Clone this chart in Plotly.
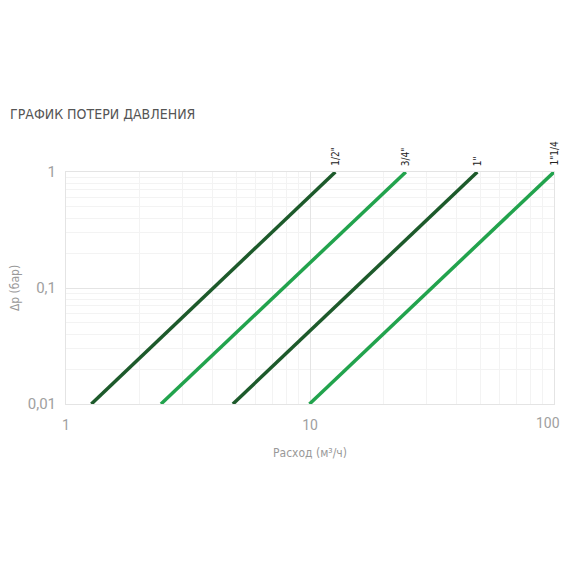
import math
import plotly.graph_objects as go

# Pipe sizes and flow (m³/h) at dp = 0.01 and dp = 1 bar
sizes = ['1/2"', '3/4"', '1"', '1"1/4']
q_start = [1.27, 2.45, 4.83, 9.95]
q_end = [12.7, 24.7, 48.5, 100.0]
dp_vals = [0.01, 1.0]
colors = ['#1d5a2b', '#22a34d', '#1d5a2b', '#22a34d']

x_ticks = [1, 10, 100]
x_ticktext = ['1', '10', '100']
y_ticks = [0.01, 0.1, 1]
y_ticktext = ['0,01', '0,1', '1']

cond = 'DejaVu Sans Condensed, Liberation Sans Narrow, Roboto, sans-serif'
xtick_font = dict(family='Roboto, sans-serif', size=14, color='#a0a0a0')

fig = go.Figure()
for name, qs, qe, c in zip(sizes, q_start, q_end, colors):
    fig.add_trace(go.Scatter(x=[qs, qe], y=dp_vals, mode='lines',
                             line=dict(color=c, width=3.5), name=name,
                             showlegend=False))
    fig.add_annotation(x=math.log10(qe), y=0, xref='x', yref='y', text=name,
                       textangle=-90, showarrow=False, xanchor='center',
                       yanchor='bottom', yshift=4,
                       font=dict(family=cond, size=10, color='#222'))

# last x tick label drawn right-aligned so it stays inside the page
fig.add_annotation(x=math.log10(x_ticks[-1]), y=0, xref='x', yref='paper',
                   text=x_ticktext[-1], showarrow=False, xanchor='right',
                   yanchor='top', xshift=8, yshift=-9, font=xtick_font)

grid = '#e4e4e4'
minor_grid = '#f3f3f3'
tick_font = dict(family='Roboto, sans-serif', size=15, color='#a0a0a0')
fig.update_xaxes(type='log', range=[0, 2], tickvals=x_ticks[:-1], ticktext=x_ticktext[:-1],
                 showgrid=True, gridcolor=grid, gridwidth=1, automargin=False,
                 minor=dict(showgrid=True, gridcolor=minor_grid, dtick='D1'),
                 showline=True, linecolor=grid, mirror=True, zeroline=False,
                 tickfont=xtick_font, ticks='', ticklabelstandoff=8,
                 title=dict(text='Расход (м³/ч)', standoff=16,
                            font=dict(family=cond, size=12, color='#999999')))
fig.update_yaxes(type='log', range=[-2, 0], tickvals=y_ticks, ticktext=y_ticktext,
                 showgrid=True, gridcolor=grid, gridwidth=1, automargin=False,
                 minor=dict(showgrid=True, gridcolor=minor_grid, dtick='D1'),
                 showline=True, linecolor=grid, mirror=True, zeroline=False,
                 tickfont=tick_font, ticks='', ticklabelstandoff=6,
                 title=dict(text='Δp (бар)', standoff=10,
                            font=dict(family=cond, size=12, color='#999999')))

fig.add_annotation(xref='paper', yref='paper', x=-58 / 488, y=1.0, yshift=48,
                   xanchor='left', yanchor='bottom', text='ГРАФИК ПОТЕРИ ДАВЛЕНИЯ',
                   showarrow=False,
                   font=dict(family=cond, size=14, color='#555555'))

fig.update_layout(width=562, height=554, margin=dict(l=58, r=16, t=164, b=158),
                  plot_bgcolor='white', paper_bgcolor='white', showlegend=False)

fig.write_html('out.html')
